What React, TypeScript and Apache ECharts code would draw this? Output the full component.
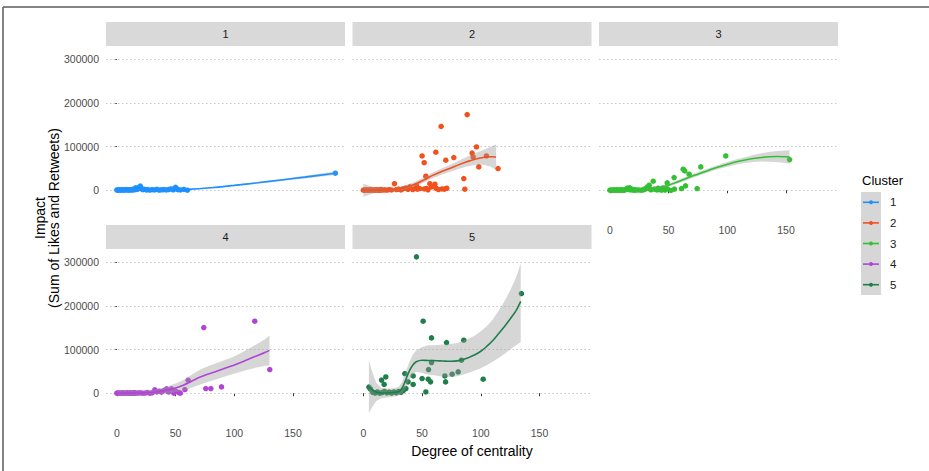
import React, { useEffect, useRef } from 'react';
import * as echarts from 'echarts';

// ---------- data ----------
const clusters = ['1', '2', '3', '4', '5'];
const clusterColors = ['#1E90FF', '#F2501D', '#33C033', '#B045D4', '#1F7F4A'];
const xTicks = [0, 50, 100, 150];
const yTicks = [0, 100000, 200000, 300000];
const xTitle = 'Degree of centrality';
const yTitle = 'Impact\n(Sum of Likes and Retweets)';
const legendTitle = 'Cluster';

const c1Points = [[0,500],[1,300],[2,800],[3,200],[4,1200],[5,400],[6,900],[7,300],[8,1500],[9,600],[10,200],[11,1100],[12,700],[13,400],[14,2500],[15,1000],[16,5500],[17,1800],[18,3000],[19,7000],[20,9500],[21,3500],[22,1200],[23,2200],[25,800],[26,1600],[28,400],[30,1100],[32,700],[34,1900],[36,300],[38,900],[40,1300],[42,600],[44,1500],[46,2800],[48,900],[49,4000],[50,6500],[51,3000],[52,1200],[54,700],[57,1800],[60,0],[186,39000]];
const c1FitX = [0, 20, 40, 60, 80, 100, 120, 140, 160, 186];
const c1Fit = [500, 700, 1000, 2000, 5500, 11000, 17000, 23500, 30000, 39000];
const c1Lo = [-500, -300, 0, 1000, 4300, 9500, 15200, 21200, 27000, 35000];
const c1Hi = [1500, 1700, 2000, 3000, 6700, 12500, 18800, 25800, 33000, 43000];

const c2Points = [[0,0],[1,500],[2,200],[3,800],[4,0],[5,300],[6,1200],[7,400],[8,0],[9,600],[10,200],[11,900],[12,300],[13,0],[14,500],[15,1500],[16,400],[18,800],[20,300],[22,1100],[24,600],[26.5,15000],[28,1500],[30,2500],[32,800],[34,3500],[36,5000],[38,2000],[39.6,7600],[42,1500],[44,4000],[45.2,11000],[46,2500],[48,3800],[50,78500],[51.8,63000],[53.2,32000],[52,3000],[53.8,4000],[55,1000],[56.6,15000],[58,7600],[60.9,13700],[61.7,87000],[62,4000],[64,1500],[66.2,146000],[67,3000],[69,2500],[70.2,68600],[71,4500],[77,74800],[85.5,26700],[86.4,2300],[88.4,173000],[92.6,85000],[93.5,76000],[96.3,99000],[98.3,53400],[104.8,78500],[114.7,49600]];
const c2FitX = [0, 10, 20, 27, 35, 45, 52, 59, 66, 74, 81, 88, 95, 102, 108, 113];
const c2Fit = [0, 0, 500, 1500, 6000, 15000, 24000, 34000, 42000, 50000, 58000, 65000, 71000, 75000, 76500, 76000];
const c2Lo = [-15000, -6000, -2500, -2000, 1000, 9500, 18000, 27500, 35000, 42000, 48500, 54000, 57500, 58000, 54000, 46000];
const c2Hi = [15000, 6000, 3500, 5000, 11000, 20500, 30000, 40500, 49000, 58000, 67500, 76000, 84500, 92000, 99000, 105000];

const c3Points = [[0,0],[1,300],[2,0],[3,600],[4,200],[5,0],[6,800],[7,300],[8,0],[9,500],[10,1000],[11,200],[12,0],[13,700],[14,2500],[15,4800],[16,1200],[17,5500],[18,600],[19,2000],[20,300],[21,900],[22,200],[24,700],[26,0],[28,400],[29,1800],[30,2500],[31,5000],[32,7500],[33.5,11400],[34,3000],[35,1000],[36.9,20600],[38,2500],[40,800],[41,4500],[42,1500],[44,0],[45,5000],[46,2000],[47,500],[48.8,16800],[49,3000],[52,-500],[54.7,29000],[55,2500],[61,3800],[62.4,48000],[63.8,44200],[64.4,9900],[67.5,36600],[74.3,3800],[77.4,53400],[98.7,78500],[153,70000]];
const c3FitX = [0, 10, 20, 30, 40, 50, 58, 65, 72, 80, 87, 94, 101, 108, 115, 122, 129, 136, 143, 150, 153];
const c3Fit = [0, 0, 200, 1500, 5000, 11500, 19500, 27000, 34000, 41500, 48500, 54500, 60000, 65000, 69000, 72500, 75000, 76500, 77000, 76500, 76000];
const c3Lo = [-2500, -1500, -1200, -500, 2000, 8000, 15500, 22500, 29500, 37000, 44000, 49500, 54500, 59000, 62500, 64500, 65500, 65000, 64000, 62000, 60500];
const c3Hi = [2500, 1500, 1600, 3500, 8000, 15000, 23500, 31500, 38500, 46000, 53000, 59500, 65500, 71000, 75500, 80500, 84500, 88000, 90000, 91000, 91500];

const c4Points = [[0,0],[1,500],[2,0],[3,300],[4,0],[5,800],[6,200],[7,0],[8,400],[9,1000],[10,0],[11,300],[12,600],[13,0],[14,200],[15,1200],[16,0],[18,500],[20,800],[22,0],[24,300],[26,1500],[28,0],[30,1000],[32.3,7600],[34,3000],[36,4600],[38,2500],[40,6000],[42.3,10000],[44,3000],[46.5,10000],[48.5,0],[50,4600],[52.8,1500],[54,0],[57.9,8400],[60.7,29700],[74,150300],[75.7,10700],[80,10700],[89.1,14500],[117.4,164800],[130.2,54200]];
const c4FitX = [1, 10, 20, 28, 35, 42, 50, 57, 64, 71, 78, 85, 92, 99, 106, 113, 120, 126, 130];
const c4Fit = [0, 200, 600, 1500, 3500, 7000, 12000, 19000, 28000, 37000, 44000, 50500, 57000, 63500, 71000, 79000, 86500, 93000, 98000];
const c4Lo = [-6000, -4500, -3500, -3000, -2500, -1000, 2000, 7000, 13000, 20000, 26000, 32000, 38000, 44000, 49500, 55000, 59500, 62500, 64000];
const c4Hi = [6000, 5000, 4700, 6000, 9500, 15000, 22000, 31000, 43000, 54000, 62000, 69000, 76000, 83000, 92500, 103000, 113500, 123500, 132000];

const c5Points = [[4.7,14000],[6.1,9100],[8,2000],[10,500],[12,3000],[14,0],[15.5,30000],[16,1500],[17.7,20000],[18,4000],[19.1,37300],[20,800],[22,2500],[24,500],[26,3000],[28,1000],[30,4000],[32,2000],[34,6000],[35.3,45000],[36.2,10700],[38.1,26000],[42.4,39600],[42.4,20000],[45.2,312000],[50,33600],[50.9,164800],[53.2,3000],[55.2,32000],[55.5,54200],[57.2,26000],[58,126600],[58,70200],[69.4,39600],[70,25900],[70.8,116000],[75.6,43500],[80.7,48800],[83.5,75500],[85.5,121300],[102,32000],[134.6,228000]];
const c5FitX = [4.7, 8, 11, 15, 20, 25, 30, 33, 36, 39, 42, 45, 50, 55, 60, 65, 70, 75, 80, 85, 90, 95, 100, 105, 110, 115, 120, 125, 130, 134];
const c5Fit = [14500, 7000, 2500, 500, 500, 1500, 4000, 12000, 30000, 50000, 64000, 72000, 75500, 75000, 74500, 74000, 73500, 73000, 74000, 77000, 82000, 88000, 96000, 107000, 120000, 136000, 152000, 170000, 189000, 210000];
const c5Lo = [-45000, -30000, -18000, -12000, -10000, -8000, -6000, -2000, 12000, 30000, 42000, 49000, 46000, 43000, 41000, 39000, 37000, 37000, 39000, 43000, 47000, 52000, 57000, 64000, 72000, 80000, 90000, 100000, 110000, 117000];
const c5Hi = [75000, 45000, 24000, 13000, 11000, 11000, 14000, 26000, 48000, 70000, 88000, 98000, 106000, 110000, 110000, 111000, 112000, 113000, 115000, 120000, 125000, 132000, 142000, 153000, 168000, 188000, 210000, 235000, 265000, 297000];

const panelPoints = [c1Points, c2Points, c3Points, c4Points, c5Points];
const panelFitX = [c1FitX, c2FitX, c3FitX, c4FitX, c5FitX];
const panelFit = [c1Fit, c2Fit, c3Fit, c4Fit, c5Fit];
const panelLo = [c1Lo, c2Lo, c3Lo, c4Lo, c5Lo];
const panelHi = [c1Hi, c2Hi, c3Hi, c4Hi, c5Hi];

// ---------- layout ----------
const W = 929;
const H = 471;
const FONT = 'Arial, "Liberation Sans", sans-serif';
const colLeft = [106, 352.5, 599];
const rowTop = [46, 249];
const PW = 239;
const PH = 170;
const STRIP_H = 24;
const X_MIN = -9.25;
const X_MAX = 194.25;
const Y_MIN = -59000;
const Y_MAX = 330000;

export default function App() {
  const ref = useRef<HTMLDivElement>(null);

  useEffect(() => {
    if (!ref.current) return;
    const chart = echarts.init(ref.current, undefined, { renderer: 'svg' });

    const grids: any[] = [];
    const xAxes: any[] = [];
    const yAxes: any[] = [];
    const series: any[] = [];
    const graphics: any[] = [];

    clusters.forEach((name, i) => {
      const col = i % 3;
      const row = Math.floor(i / 3);
      const left = colLeft[col];
      const top = rowTop[row];
      const showX = i >= 2;
      const showY = col === 0;
      const color = clusterColors[i];

      grids.push({ left, top, width: PW, height: PH, show: false });
      xAxes.push({
        gridIndex: i,
        type: 'value',
        min: X_MIN,
        max: X_MAX,
        axisLine: { show: false },
        splitLine: { show: false },
        axisTick: { show: showX, length: 3, customValues: xTicks, lineStyle: { color: '#333333', width: 1 } },
        axisLabel: { show: showX, customValues: xTicks, color: '#4D4D4D', fontSize: 10.5, margin: 8, fontFamily: FONT },
      });
      yAxes.push({
        gridIndex: i,
        type: 'value',
        min: Y_MIN,
        max: Y_MAX,
        axisLine: { show: false },
        splitLine: { show: false },
        axisTick: { show: showY, length: 3, customValues: yTicks, lineStyle: { color: '#333333', width: 1 } },
        axisLabel: {
          show: showY,
          customValues: yTicks,
          color: '#4D4D4D',
          fontSize: 10.5,
          margin: 7,
          fontFamily: FONT,
          formatter: (v: number) => String(v),
        },
      });

      // strip
      graphics.push({
        type: 'rect',
        shape: { x: left, y: top - STRIP_H, width: PW, height: STRIP_H },
        style: { fill: '#D9D9D9' },
        silent: true,
      });
      graphics.push({
        type: 'text',
        x: left + PW / 2,
        y: top - STRIP_H / 2,
        style: { text: name, fill: '#1A1A1A', fontSize: 11, fontFamily: FONT, align: 'center', verticalAlign: 'middle' },
        silent: true,
      });

      const pts = panelPoints[i];
      const fx = panelFitX[i];
      const fy = panelFit[i];
      const lo = panelLo[i];
      const hi = panelHi[i];

      series.push({
        type: 'scatter',
        name: name,
        xAxisIndex: i,
        yAxisIndex: i,
        z: 2,
        symbolSize: 5.5,
        itemStyle: { color, opacity: 1 },
        data: pts,
        silent: true,
        markLine: {
          silent: true,
          z: 1,
          symbol: 'none',
          label: { show: false },
          lineStyle: { type: [1.5, 2.5], color: '#C8C8C8', width: 1 },
          data: yTicks.map((v) => ({ yAxis: v })),
        },
      });
      series.push({
        type: 'custom',
        xAxisIndex: i,
        yAxisIndex: i,
        z: 3,
        silent: true,
        data: fx.map((x, k) => [x, lo[k], hi[k]]),
        encode: { x: 0, y: [1, 2] },
        renderItem: (params: any, api: any) => {
          if (params.dataIndex !== 0) return null;
          const upper = fx.map((x, k) => api.coord([x, hi[k]]));
          const lower = fx.map((x, k) => api.coord([x, lo[k]])).reverse();
          return {
            type: 'polygon',
            shape: { points: upper.concat(lower) },
            style: { fill: 'rgba(153,153,153,0.4)' },
          };
        },
      });
      series.push({
        type: 'line',
        name: name,
        xAxisIndex: i,
        yAxisIndex: i,
        z: 4,
        smooth: 0.4,
        showSymbol: false,
        silent: true,
        lineStyle: { color, width: 1.6 },
        itemStyle: { color },
        data: fx.map((x, k) => [x, fy[k]]),
      });
    });

    // axis titles
    graphics.push({
      type: 'text',
      x: 472,
      y: 451,
      style: { text: xTitle, fill: '#000000', fontSize: 14, fontFamily: FONT, align: 'center', verticalAlign: 'middle' },
      silent: true,
    });
    graphics.push({
      type: 'text',
      x: 47,
      y: 218,
      rotation: Math.PI / 2,
      style: {
        text: yTitle,
        fill: '#000000',
        fontSize: 14,
        lineHeight: 14,
        fontFamily: FONT,
        align: 'center',
        verticalAlign: 'middle',
      },
      silent: true,
    });

    // legend
    const keyTop = 192;
    const keyH = 20.6;
    graphics.push({
      type: 'text',
      x: 862,
      y: 180,
      style: { text: legendTitle, fill: '#000000', fontSize: 13, fontFamily: FONT, align: 'left', verticalAlign: 'middle' },
      silent: true,
    });
    graphics.push({
      type: 'rect',
      shape: { x: 861, y: keyTop, width: 20, height: keyH * clusters.length },
      style: { fill: '#D6D6D6' },
      silent: true,
    });
    clusters.forEach((name, i) => {
      const cy = keyTop + keyH * (i + 0.5);
      graphics.push({
        type: 'line',
        shape: { x1: 863, y1: cy, x2: 879, y2: cy },
        style: { stroke: clusterColors[i], lineWidth: 1.6 },
        silent: true,
      });
      graphics.push({
        type: 'circle',
        shape: { cx: 871, cy, r: 2 },
        style: { fill: clusterColors[i] },
        silent: true,
      });
      graphics.push({
        type: 'text',
        x: 890,
        y: cy,
        style: { text: name, fill: '#1A1A1A', fontSize: 11.5, fontFamily: FONT, align: 'left', verticalAlign: 'middle' },
        silent: true,
      });
    });

    // frame
    graphics.push({
      type: 'line',
      shape: { x1: 3, y1: 7, x2: W, y2: 7 },
      style: { stroke: '#5A5A5A', lineWidth: 1.5 },
      silent: true,
    });
    graphics.push({
      type: 'line',
      shape: { x1: 3, y1: 7, x2: 3, y2: H },
      style: { stroke: '#5A5A5A', lineWidth: 1.5 },
      silent: true,
    });

    chart.setOption({
      animation: false,
      backgroundColor: '#FFFFFF',
      textStyle: { fontFamily: FONT },
      grid: grids,
      xAxis: xAxes,
      yAxis: yAxes,
      series,
      graphic: graphics,
    });

    return () => {
      chart.dispose();
    };
  }, []);

  return (
    <div
      ref={ref}
      style={{ position: 'absolute', left: 0, top: 0, width: W, height: H, background: '#FFFFFF' }}
    />
  );
}
